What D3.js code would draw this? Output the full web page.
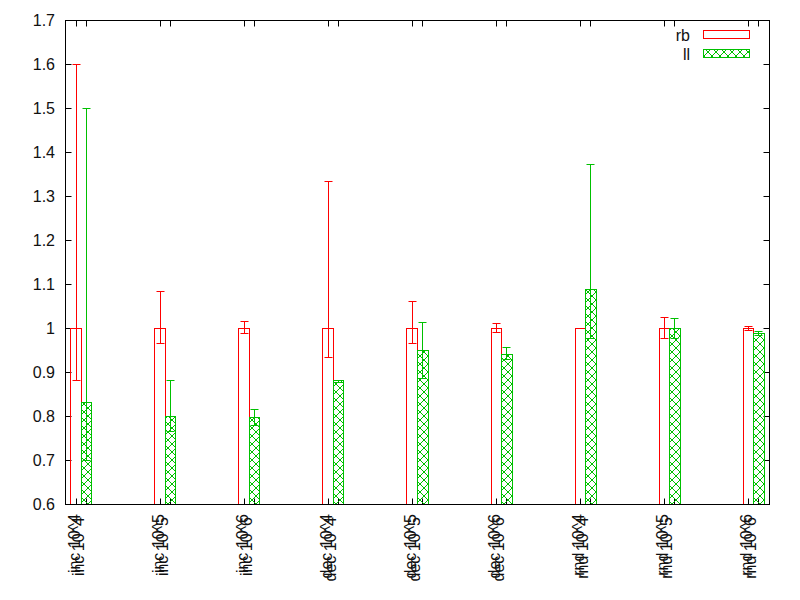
<!DOCTYPE html>
<html><head><meta charset="utf-8">
<script src="https://cdn.jsdelivr.net/npm/d3@7"></script>
<style>body{margin:0;background:#fff}svg{display:block}text{font-family:"Liberation Sans",Arial,sans-serif;font-size:16px;fill:#111}</style>
</head><body>
<svg id="c" width="800" height="600"></svg>
<script>
const categories = ["inc 10^4","inc 10^5","inc 10^6","dec 10^4","dec 10^5","dec 10^6","rnd 10^4","rnd 10^5","rnd 10^6"];
const rbValues = [1,1,1,1,1,1,1,1,1];
const rbLow  = [0.881,0.966,0.988,0.935,0.967,0.990,0.999,0.978,0.996];
const rbHigh = [1.601,1.083,1.015,1.335,1.062,1.012,1.001,1.025,1.004];
const llValues = [0.832,0.800,0.797,0.881,0.951,0.942,1.089,1.000,0.989];
const llLow  = [0.700,0.767,0.780,0.878,0.887,0.930,0.978,0.978,0.985];
const llHigh = [1.499,0.882,0.815,0.882,1.013,0.956,1.372,1.023,0.994];
const yTicks = [0.6,0.7,0.8,0.9,1,1.1,1.2,1.3,1.4,1.5,1.6,1.7];
const seriesNames = ["rb","ll"];

const RED = "#ff0000", GREEN = "#00c000";
const L = 65.5, R = 769.5, T = 20.5, B = 504.5;
const svg = d3.select("#c");
const x = d3.scaleLinear().domain([-0.19, 8.19]).range([L, R]);
const y = d3.scaleLinear().domain([0.6, 1.7]).range([B, T]);
const bw = 0.125;
const px = v => Math.round(v - 0.5) + 0.5;

const defs = svg.append("defs");
const pat = defs.append("pattern").attr("id","hatch").attr("patternUnits","userSpaceOnUse")
  .attr("width",8).attr("height",8);
pat.append("path").attr("d","M0,0 L8,8 M8,0 L0,8 M-1,7 L1,9 M7,-1 L9,1 M-1,1 L1,-1 M7,9 L9,7")
  .attr("stroke",GREEN).attr("stroke-width",1).attr("fill","none");

// axis ticks
const g = svg.append("g");
yTicks.forEach(t => {
  const yy = px(y(t));
  g.append("line").attr("x1",L).attr("x2",L+6).attr("y1",yy).attr("y2",yy).attr("stroke","#000");
  g.append("line").attr("x1",R-6).attr("x2",R).attr("y1",yy).attr("y2",yy).attr("stroke","#000");
  g.append("text").attr("x",55).attr("y",yy).attr("dy","0.36em").attr("text-anchor","end")
    .text(d3.format("~g")(t));
});
categories.forEach((c,i) => {
  [i - bw/2, i + bw/2].forEach(cx => {
    const xx = px(x(cx));
    g.append("line").attr("x1",xx).attr("x2",xx).attr("y1",B).attr("y2",B-6).attr("stroke","#000");
    g.append("line").attr("x1",xx).attr("x2",xx).attr("y1",T).attr("y2",T+6).attr("stroke","#000");
  });
  // tick labels (one per series, slightly offset as in the original)
  const xc = x(i - bw/2);
  [[-2,514],[2,517]].forEach(([dx,yy]) => {
    g.append("text").attr("transform",`translate(${xc+dx},${yy}) rotate(-90)`)
      .attr("text-anchor","end").attr("dy","0.36em").text(c);
  });
});

function drawSeries(vals, lo, hi, off, color, fill){
  const gs = svg.append("g");
  vals.forEach((v,i) => {
    const x0 = px(x(i + off)), x1 = px(x(i + off + bw));
    const yt = px(y(v));
    gs.append("rect").attr("x",x0).attr("y",yt).attr("width",x1-x0).attr("height",B-yt)
      .attr("fill",fill).attr("stroke",color).attr("stroke-width",1);
    const xc = px(x(i + off + bw/2));
    const yl = px(y(lo[i])), yh = px(y(hi[i]));
    gs.append("line").attr("x1",xc).attr("x2",xc).attr("y1",yl).attr("y2",yh).attr("stroke",color);
    [yl,yh].forEach(yy => gs.append("line").attr("x1",xc-4).attr("x2",xc+4).attr("y1",yy).attr("y2",yy).attr("stroke",color));
  });
}
drawSeries(rbValues, rbLow, rbHigh, -bw, RED, "none");
drawSeries(llValues, llLow, llHigh, 0, GREEN, "url(#hatch)");

// border
svg.append("rect").attr("x",L).attr("y",T).attr("width",R-L).attr("height",B-T)
  .attr("fill","none").attr("stroke","#000");

// legend
const leg = svg.append("g");
seriesNames.forEach((s,k) => {
  const yy = 35 + k*19;
  leg.append("text").attr("x",690).attr("y",yy).attr("dy","0.36em").attr("text-anchor","end").text(s);
  leg.append("rect").attr("x",703.5).attr("y",yy-4.5).attr("width",46).attr("height",8)
    .attr("fill", k===0 ? "none" : "url(#hatch)").attr("stroke", k===0 ? RED : GREEN);
});
</script>
</body></html>
